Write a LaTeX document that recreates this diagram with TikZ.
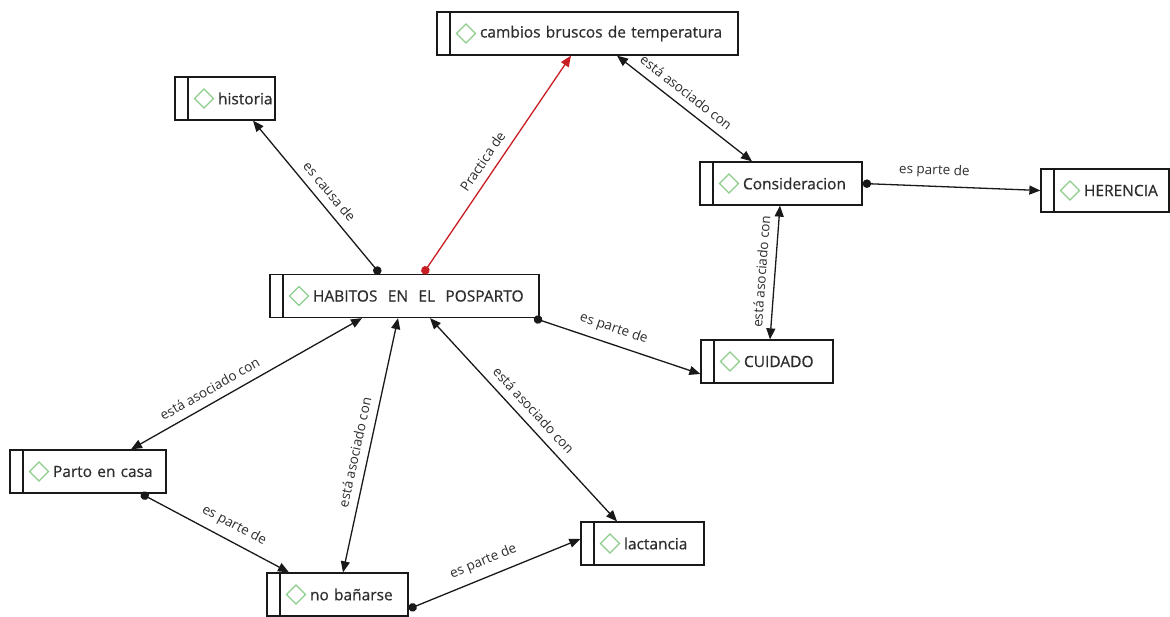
\documentclass[tikz,border=0pt]{standalone}
\usepackage{fontspec}
\setmainfont{Open Sans}
\newfontfamily\boxfont{Open Sans}[FakeBold=0.6]
\usetikzlibrary{arrows.meta}

\definecolor{ink}{RGB}{45,45,45}
\definecolor{wire}{RGB}{25,25,25}
\definecolor{leaf}{RGB}{140,205,140}
\definecolor{redline}{RGB}{200,30,35}

\tikzset{
  concept/.style={
    draw=wire, line width=1.3pt, text=ink,
    text width=#1, align=left, inner xsep=0pt, inner ysep=0pt,
    minimum height=43pt,
    font=\boxfont\fontsize{15.5}{18}\selectfont,
    execute at begin node={\hspace*{43pt}},
    path picture={
      \draw[wire, line width=1.3pt]
        ([xshift=13pt]path picture bounding box.north west) --
        ([xshift=13pt]path picture bounding box.south west);
      \draw[leaf, line width=1.2pt]
        ([xshift=29pt]path picture bounding box.west) ++(-9.5pt,0pt) --
        ++(9.5pt,9.5pt) -- ++(9.5pt,-9.5pt) -- ++(-9.5pt,-9.5pt) -- cycle;
    }},
  link/.style={draw=wire, line width=1.3pt},
  dtip/.style={{Triangle[length=11pt,width=9pt]}-{Triangle[length=11pt,width=9pt]}},
  dottip/.style={{Circle[length=8.5pt]}-{Triangle[length=11pt,width=9pt]}},
  lab/.style={font=\fontsize{13.5}{15}\selectfont, text=ink, sloped, above=5pt, inner sep=3pt},
}

\begin{document}
\begin{tikzpicture}[x=1pt, y=-1pt]
  \useasboundingbox (0,0) rectangle (1170,617);

  % concepts
  \node[concept=301pt] (temp)  at (587.5,33.5) {cambios bruscos de temperatura};
  \node[concept=100pt] (hist)  at (225,98.5)   {historia};
  \node[concept=269pt] (hab)   at (404.5,296)  {HABITOS\ \ EN\ \ EL\ \ POSPARTO};
  \node[concept=162pt] (cons)  at (781,183.5)  {Consideracion};
  \node[concept=128pt] (her)   at (1105,190.5) {HERENCIA};
  \node[concept=132pt] (cuid)  at (767,361.5)  {CUIDADO};
  \node[concept=156pt] (parto) at (88,471.5)   {Parto en casa};
  \node[concept=141pt] (banar) at (337.5,594.5){no bañarse};
  \node[concept=123pt] (lact)  at (642.5,543.5){lactancia};

  % connectors
  \draw[link, dottip] ([xshift=-24.5pt]hab.north) -- node[lab, pos=0.48] {es causa de} ([xshift=28pt]hist.south);
  \draw[link, draw=redline, {Circle[length=8.5pt]}-{Triangle[length=11pt,width=9pt]}, redline]
    ([xshift=18.5pt]hab.north) -- node[lab, pos=0.48, text=ink] {Practica de} ([xshift=-16.5pt]temp.south);
  \draw[link, dtip] ([xshift=29.5pt]temp.south) -- node[lab, pos=0.45] {está asociado con} ([xshift=-29pt]cons.north);
  \draw[link, dottip] (cons.east) -- node[lab, pos=0.4] {es parte de} (her.west);
  \draw[link, dtip] ([xshift=-1pt]cons.south) -- node[lab, pos=0.5] {está asociado con} ([xshift=3pt]cuid.north);
  \draw[link, dottip] ([xshift=129.5pt]hab.south) -- node[lab, pos=0.45] {es parte de} ([yshift=-12.5pt]cuid.west);
  \draw[link, dtip] ([xshift=-42.5pt]hab.south) -- node[lab, pos=0.63] {está asociado con} ([xshift=43pt]parto.north);
  \draw[link, dtip] ([xshift=-6.5pt]hab.south) -- node[lab, pos=0.54] {está asociado con} ([xshift=5.5pt]banar.north);
  \draw[link, dtip] ([xshift=25.5pt]hab.south) -- node[lab, pos=0.5] {está asociado con} ([xshift=-25.5pt]lact.north);
  \draw[link, dottip] ([xshift=53pt]parto.south) -- node[lab, pos=0.58] {es parte de} ([xshift=-48.5pt]banar.north);
  \draw[link, dottip] ([yshift=-14.5pt]banar.east) -- node[lab, pos=0.47] {es parte de} ([yshift=4.5pt]lact.west);
\end{tikzpicture}
\end{document}
